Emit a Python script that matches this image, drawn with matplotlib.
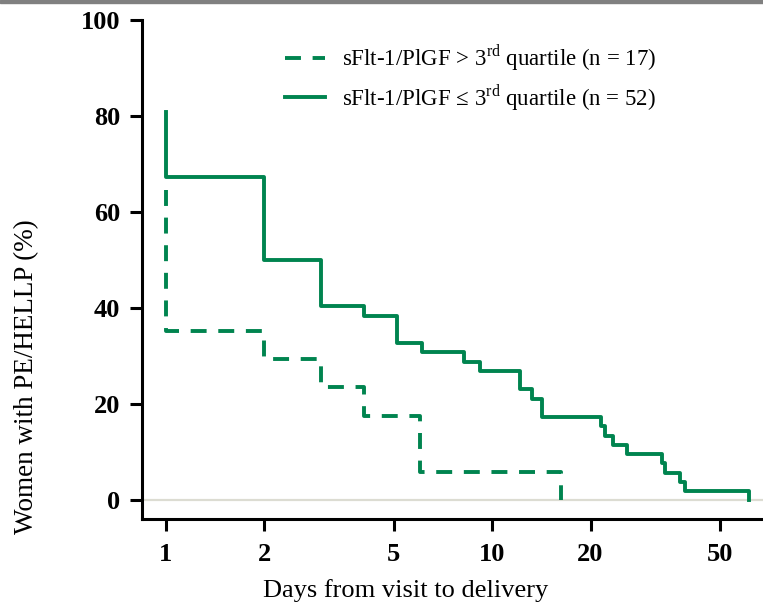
import matplotlib
matplotlib.use("Agg")
import matplotlib.pyplot as plt
from matplotlib.patches import Rectangle
from matplotlib.ticker import FixedLocator, NullLocator

plt.rcParams['font.family'] = ['Liberation Serif', 'DejaVu Serif']
plt.rcParams['mathtext.fontset'] = 'custom'
plt.rcParams['mathtext.rm'] = 'Liberation Serif'

green = '#00844f'

# high ratio group (> 3rd quartile), n = 17
n_high = 17
days_high = [1, 1, 2, 3, 4.05, 6, 16.2]
left_high = [11, 6, 5, 4, 3, 1, 0]

# low ratio group (<= 3rd quartile), n = 52
n_low = 52
days_low = [1, 1, 2, 3, 4.05, 5.1, 6.1, 8.2, 9.2, 12.2, 13.2, 14.2,
            21.5, 22.1, 23.4, 25.8, 33, 33.8, 37.6, 38.9, 61.2]
left_low = [42, 35, 26, 21, 20, 17, 16, 15, 14, 12, 11, 9,
            8, 7, 6, 5, 4, 3, 2, 1, 0]

x_ticks = [1, 2, 5, 10, 20, 50]
y_ticks = [0, 20, 40, 60, 80, 100]

pct_high = [c / n_high * 100 for c in left_high]
pct_low = [c / n_low * 100 for c in left_low]

fig = plt.figure(figsize=(7.63, 6.09), dpi=100)
ax = fig.add_axes([142 / 763, 1 - 519 / 609, 1 - 142 / 763, (519 - 20) / 609])

fig.patches.append(Rectangle((0, 1 - 3 / 609), 1, 3 / 609, transform=fig.transFigure,
                             color='#808080', zorder=0))

ax.axhline(0, xmin=0.005, color='#dcdcd2', lw=1.6, zorder=1)

ax.step(days_high, pct_high, where='post', color=green, lw=2.8,
        dashes=(4.1, 3.0), dash_capstyle='butt',
        label='sFlt-1/PlGF > 3$^{\\mathrm{rd}}$ quartile (n = 17)', zorder=3)
ax.step(days_low, pct_low, where='post', color=green, lw=2.8,
        label='sFlt-1/PlGF \u2264 3$^{\\mathrm{rd}}$ quartile (n = 52)', zorder=3)

ax.set_xscale('log')
ax.set_xlim(0.846, 67.5)
ax.set_ylim(-3.9, 100)
ax.xaxis.set_major_locator(FixedLocator(x_ticks))
ax.xaxis.set_minor_locator(NullLocator())
ax.set_xticklabels([str(t) for t in x_ticks])
ax.set_yticks(y_ticks)

for s in ['top', 'right']:
    ax.spines[s].set_visible(False)
for s in ['left', 'bottom']:
    ax.spines[s].set_linewidth(2.2)

ax.tick_params(axis='both', direction='out', length=8.5, width=2.2,
               labelsize=19)
ax.tick_params(axis='y', pad=7)
ax.tick_params(axis='x', pad=9)
for lab in ax.get_xticklabels() + ax.get_yticklabels():
    lab.set_fontweight('bold')

ax.set_xlabel('Days from visit to delivery', fontsize=19)
ax.set_ylabel('Women with PE/HELLP (%)', fontsize=19.5)
ax.xaxis.set_label_coords(0.424, -0.12)
ax.yaxis.set_label_coords(-0.165, 0.285)

ax.legend(loc='upper left', bbox_to_anchor=(0.23, 0.955), frameon=False,
          fontsize=16.5, handlelength=1.75, handletextpad=0.75, labelspacing=0.38,
          borderaxespad=0, borderpad=0)

fig.savefig('out.png', dpi=100)
